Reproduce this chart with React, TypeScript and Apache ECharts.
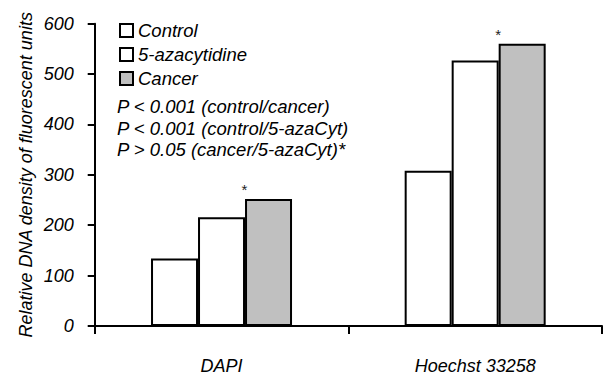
import React, { useEffect, useRef } from "react";
import * as echarts from "echarts";

const categories = ["DAPI", "Hoechst 33258"];
const seriesNames = ["Control", "5-azacytidine", "Cancer"];
const controlValues = [134, 308];
const azaValues = [216, 527];
const cancerValues = [252, 560];
const yTicks = { min: 0, max: 600, interval: 100 };
const pTexts = [
  "P < 0.001 (control/cancer)",
  "P < 0.001 (control/5-azaCyt)",
  "P > 0.05 (cancer/5-azaCyt)*",
];
const yAxisTitle = "Relative DNA density of fluorescent units";

const FONT = "'Liberation Sans', Arial, sans-serif";

export default function App() {
  const ref = useRef<HTMLDivElement>(null);
  useEffect(() => {
    if (!ref.current) return;
    const chart = echarts.init(ref.current, undefined, { renderer: "svg" });
    const colors = ["#ffffff", "#ffffff", "#c0c0c0"];
    const data = [controlValues, azaValues, cancerValues];
    chart.setOption({
      animation: false,
      backgroundColor: "#ffffff",
      textStyle: { fontFamily: FONT },
      grid: { left: 94.7, right: 3, top: 23.7, bottom: 40.7, containLabel: false },
      legend: {
        orient: "vertical",
        left: 119,
        top: 21,
        padding: 0,
        itemWidth: 13,
        itemHeight: 13,
        itemGap: 5,
        icon: "rect",
        textStyle: { fontFamily: FONT, fontSize: 18.5, fontStyle: "italic", color: "#000" },
        data: seriesNames,
      },
      xAxis: {
        type: "category",
        data: categories,
        axisLine: { lineStyle: { color: "#000", width: 2 } },
        axisTick: { show: true, length: 8, lineStyle: { color: "#000", width: 2 } },
        axisLabel: { margin: 31, fontFamily: FONT, fontSize: 18, fontStyle: "italic", color: "#000" },
      },
      yAxis: {
        type: "value",
        min: yTicks.min,
        max: yTicks.max,
        interval: yTicks.interval,
        name: yAxisTitle,
        nameLocation: "middle",
        nameRotate: 90,
        nameGap: 60,
        nameMoveOverlap: false,
        nameTextStyle: { fontFamily: FONT, fontSize: 18, fontStyle: "italic", color: "#000" },
        splitLine: { show: false },
        axisLine: { show: true, lineStyle: { color: "#000", width: 2 } },
        axisTick: { show: true, length: 7, lineStyle: { color: "#000", width: 2 } },
        axisLabel: { margin: 21, fontFamily: FONT, fontSize: 18, fontStyle: "italic", color: "#000" },
      },
      series: seriesNames.map((name, i) => ({
        name,
        type: "bar",
        data: data[i],
        barGap: "0%",
        barWidth: 47,
        itemStyle: { color: colors[i], borderColor: "#000", borderWidth: 2 },
        label:
          i === 2
            ? {
                show: true,
                position: "top",
                formatter: "*",
                offset: [-24, 0],
                distance: 2,
                fontFamily: FONT,
                fontSize: 15,
                color: "#222",
              }
            : { show: false },
      })),
      graphic: pTexts.map((t, i) => ({
        type: "text",
        left: 117,
        top: 97 + i * 21.5,
        style: { text: t, fontFamily: FONT, fontSize: 18.5, fontStyle: "italic", fill: "#000" },
      })),
    });
    return () => chart.dispose();
  }, []);
  return (
    <div
      ref={ref}
      style={{ position: "fixed", left: 0, top: 0, width: 605, height: 375 }}
    />
  );
}
